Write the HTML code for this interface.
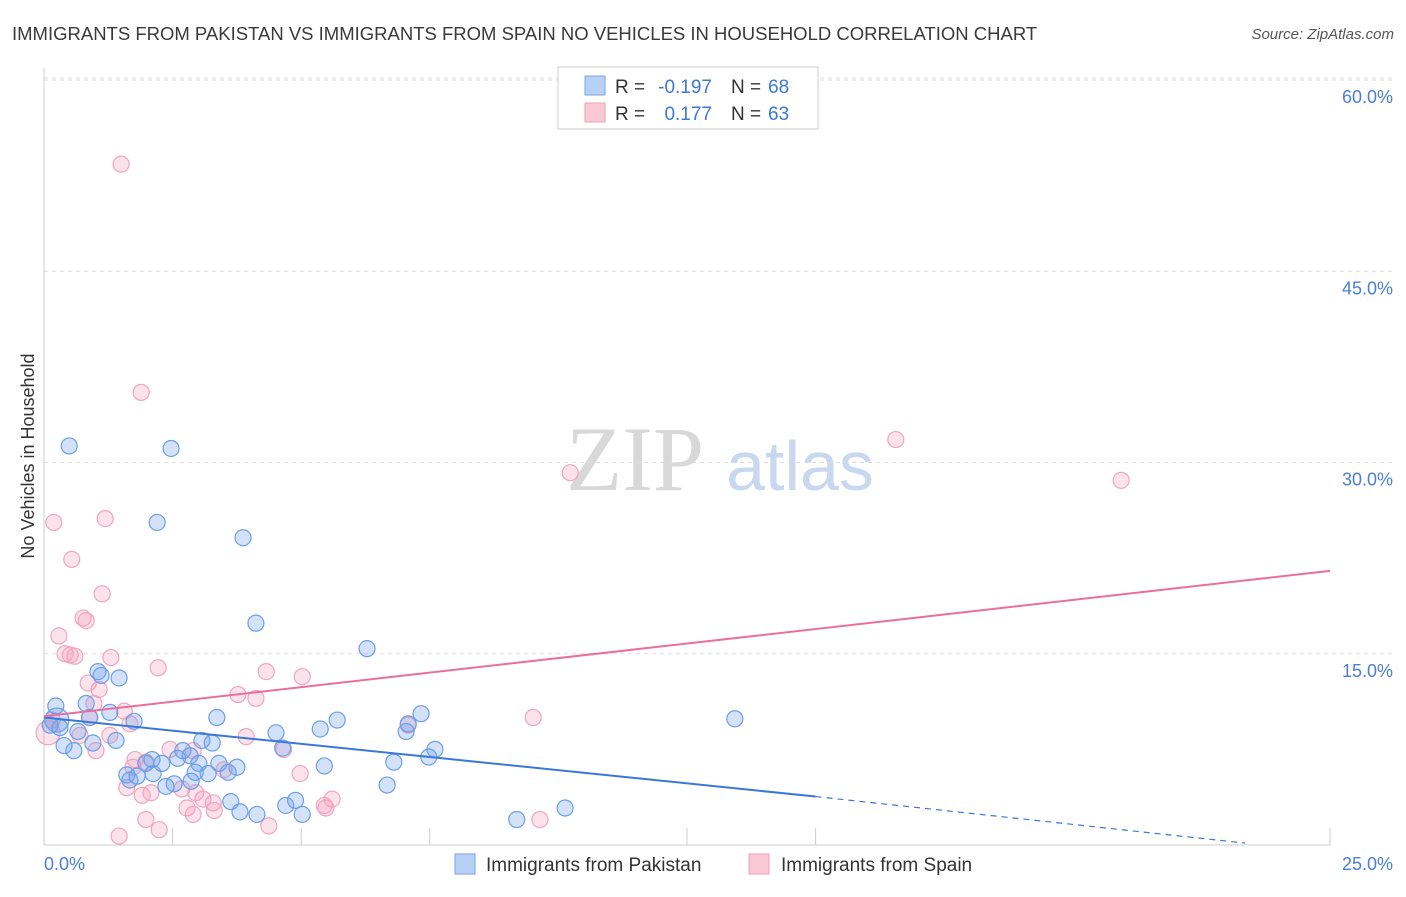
<!DOCTYPE html>
<html><head><meta charset="utf-8"><style>
body{margin:0;background:#fff;font-family:"Liberation Sans",sans-serif;}
svg text{font-family:"Liberation Sans",sans-serif;}
</style></head><body>
<svg id="chart" width="1406" height="892" xmlns="http://www.w3.org/2000/svg">
<text x="12" y="40" font-size="18.5" fill="#3a3a3a">IMMIGRANTS FROM PAKISTAN VS IMMIGRANTS FROM SPAIN NO VEHICLES IN HOUSEHOLD CORRELATION CHART</text>
<text x="1394" y="39" font-size="15" fill="#555" font-style="italic" text-anchor="end">Source: ZipAtlas.com</text>
<text transform="translate(34,456) rotate(-90)" font-size="18" fill="#333" text-anchor="middle">No Vehicles in Household</text>
<g>
<text x="635" y="490" font-size="92" fill="#d8d8d8" style="font-family:'Liberation Serif',serif" text-anchor="middle">ZIP</text>
<text x="800" y="490" font-size="70" fill="#c8d8f0" text-anchor="middle">atlas</text>
</g>
<g id="grid"></g>
<g id="axes"></g>
<g id="points"></g>
<g id="trends"></g>
<g>
<rect x="558" y="67" width="260" height="62" fill="#fff" stroke="#ccc"/>
<rect x="585" y="76" width="20" height="19" fill="#b8d0f4" stroke="#7aa6e8"/>
<rect x="585" y="103" width="20" height="19" fill="#f8c8d6" stroke="#f0a0b8"/>
<text x="615" y="93" font-size="19" fill="#333">R =</text>
<text x="712" y="93" font-size="19" fill="#3b78d8" text-anchor="end">-0.197</text>
<text x="731" y="93" font-size="19" fill="#333">N =</text>
<text x="768" y="93" font-size="19" fill="#3b78d8">68</text>
<text x="615" y="120" font-size="19" fill="#333">R =</text>
<text x="712" y="120" font-size="19" fill="#3b78d8" text-anchor="end">0.177</text>
<text x="731" y="120" font-size="19" fill="#333">N =</text>
<text x="768" y="120" font-size="19" fill="#3b78d8">63</text>
</g>
<g>
<rect x="455" y="854" width="20" height="20" fill="#b8d0f4" stroke="#7aa6e8"/>
<text x="486" y="871" font-size="19" fill="#333">Immigrants from Pakistan</text>
<rect x="749" y="854" width="20" height="20" fill="#f8c8d6" stroke="#f0a0b8"/>
<text x="781" y="871" font-size="19" fill="#333">Immigrants from Spain</text>
</g>
</svg>
<script>
const yTicks=[15,30,45,60];
const yTickLabels=["15.0%","30.0%","45.0%","60.0%"];
const xTickLabels=["0.0%","25.0%"];
const pakX=[0.49,2.47,2.20,3.87,4.12,6.28,1.05,1.11,1.46,0.23,0.82,1.28,0.89,1.75,3.36,5.70,7.33,7.08,13.43,0.12,0.31,0.66,4.51,5.37,7.04,0.39,0.58,0.95,1.40,3.07,3.27,4.64,2.70,7.60,7.48,2.10,2.60,2.84,3.01,1.98,2.29,3.40,3.75,5.45,6.80,1.61,1.81,2.12,2.94,3.19,3.58,1.67,2.37,2.53,2.86,6.67,3.63,3.81,4.14,4.70,4.89,5.02,9.19,10.13,0.25];
const pakY=[31.3,31.1,25.3,24.1,17.4,15.4,13.6,13.3,13.1,10.9,11.1,10.4,10.0,9.7,10.0,9.8,10.3,9.5,9.9,9.4,9.2,8.9,8.8,9.1,8.9,7.8,7.4,8.0,8.2,8.2,8.0,7.6,7.4,7.5,6.9,6.7,6.8,7.0,6.4,6.4,6.4,6.4,6.1,6.2,6.5,5.5,5.4,5.6,5.7,5.6,5.7,5.1,4.6,4.8,5.0,4.7,3.4,2.6,2.4,3.1,3.5,2.4,2.0,2.9,9.8];
const spX=[1.50,1.89,16.56,10.23,20.94,0.19,1.19,0.54,1.13,0.76,0.82,0.29,0.41,0.51,0.60,1.30,2.22,4.32,5.02,0.86,1.07,3.77,4.12,0.97,1.56,9.51,0.88,0.16,1.67,7.08,0.70,1.28,3.93,1.01,2.45,2.90,4.66,1.77,1.98,1.73,3.50,4.98,1.61,2.08,1.91,2.68,2.95,3.09,3.29,5.60,5.45,5.48,2.78,3.31,2.90,1.98,4.37,2.24,1.46,9.64,0.08];
const spY=[53.4,35.5,31.8,29.2,28.6,25.3,25.6,22.4,19.7,17.8,17.6,16.4,15.0,14.9,14.8,14.7,13.9,13.6,13.2,12.7,12.2,11.8,11.5,11.1,10.5,10.0,10.0,9.8,9.5,9.4,8.6,8.6,8.5,7.4,7.5,7.4,7.5,6.7,6.5,6.1,5.9,5.6,4.5,4.1,3.9,4.4,4.1,3.6,3.3,3.6,3.1,2.9,2.9,2.7,2.4,2.0,1.5,1.2,0.7,2.0,8.8];
const pakTrend=[10.0,3.8];const pakTrendX=[0,15];const pakDashEnd=[23.35,0.15];
const spTrend=[10.1,21.5];const spTrendX=[0,25];
const NS="http://www.w3.org/2000/svg";
const X=v=>44+v/25*1286, Y=v=>845-v*12.75;
function mk(tag,attrs,parent){const e=document.createElementNS(NS,tag);for(const k in attrs)e.setAttribute(k,attrs[k]);document.getElementById(parent).appendChild(e);return e;}
yTicks.forEach((t,i)=>{
 const g=mk('line',{x1:44,x2:1394,y1:Y(t),y2:Y(t),stroke:'#ddd','stroke-dasharray':'4,4'},'grid');
 
 
 const l=mk('text',{x:1393,y:Y(t)+23,'font-size':18,fill:'#4a7fd8','text-anchor':'end'},'axes');
 l.textContent=yTickLabels[i];
 
 
});
const topGrid=mk('line',{x1:44,x2:1394,y1:78,y2:78,stroke:'#ddd','stroke-dasharray':'4,4'},'grid');


const ya=mk('line',{x1:44,x2:44,y1:68,y2:845,stroke:'#ccc'},'axes');


const xa=mk('line',{x1:44,x2:1330,y1:845,y2:845,stroke:'#ccc'},'axes');


[2.5,5,7.5,12.5,15,25].forEach(v=>{
 const t=mk('line',{x1:X(v),x2:X(v),y1:828,y2:845,stroke:'#ccc'},'axes');
 
 
});
const xl0=mk('text',{x:44,y:870,'font-size':18,fill:'#4a7fd8'},'axes');
xl0.textContent=xTickLabels[0];


const xl1=mk('text',{x:1393,y:870,'font-size':18,fill:'#4a7fd8','text-anchor':'end'},'axes');
xl1.textContent=xTickLabels[1];


spX.forEach((v,i)=>{
 const c=mk('circle',{cx:X(v),cy:Y(spY[i]),r:i===spX.length-1?12:8,fill:'rgba(244,160,188,0.3)',stroke:'#f0a6be','stroke-width':1.2},'points');
 
 
});
pakX.forEach((v,i)=>{
 const c=mk('circle',{cx:X(v),cy:Y(pakY[i]),r:i===pakX.length-1?12:8,fill:'rgba(110,160,235,0.3)',stroke:'#6c9fe6','stroke-width':1.2},'points');
 
 
});
const t1=mk('line',{x1:X(pakTrendX[0]),y1:Y(pakTrend[0]),x2:X(pakTrendX[1]),y2:Y(pakTrend[1]),stroke:'#3a78d8','stroke-width':2},'trends');


const t2=mk('line',{x1:X(pakTrendX[1]),y1:Y(pakTrend[1]),x2:X(pakDashEnd[0]),y2:Y(pakDashEnd[1]),stroke:'#3a78d8','stroke-width':1.2,'stroke-dasharray':'6,5'},'trends');


const t3=mk('line',{x1:X(spTrendX[0]),y1:Y(spTrend[0]),x2:X(spTrendX[1]),y2:Y(spTrend[1]),stroke:'#e8709a','stroke-width':2},'trends');


</script>
</body></html>
